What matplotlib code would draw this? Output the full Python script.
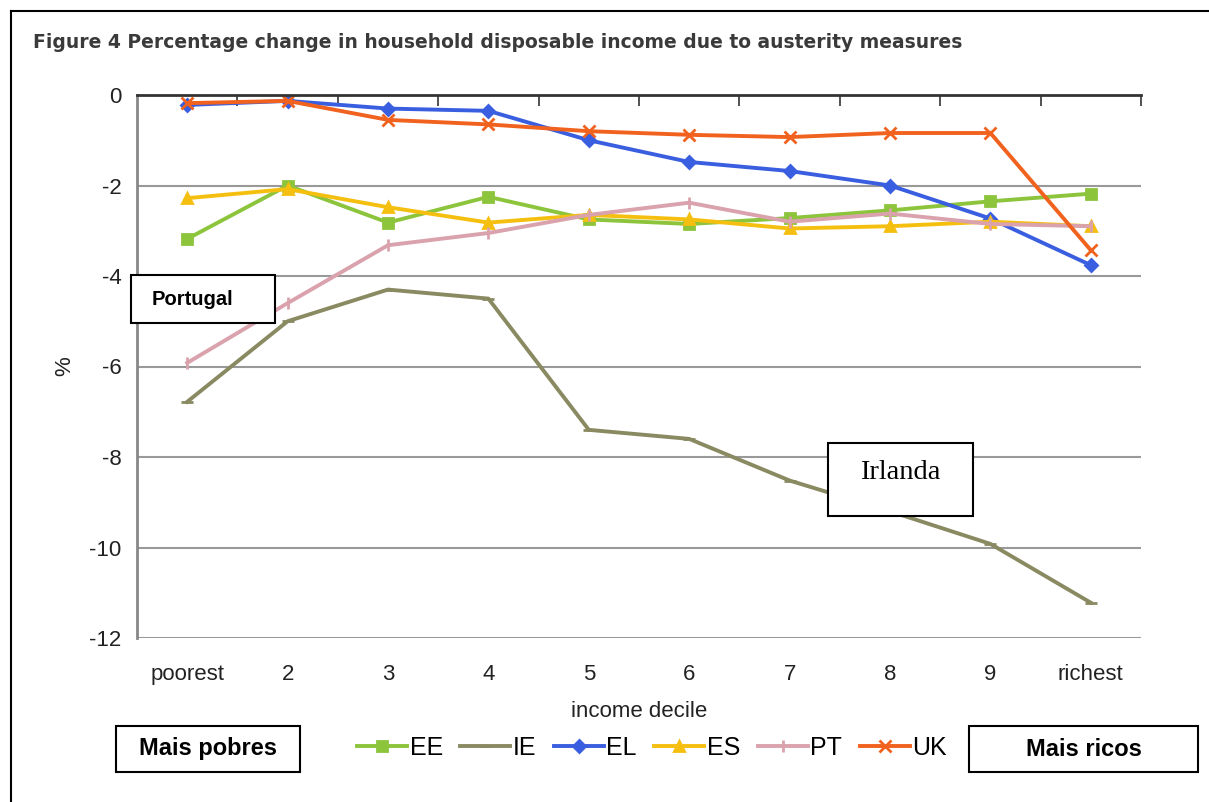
import matplotlib.pyplot as plt
from matplotlib.lines import Line2D
import numpy as np

deciles = ['poorest', '2', '3', '4', '5', '6', '7', '8', '9', 'richest']

ee = [-3.18, -2.0, -2.82, -2.25, -2.75, -2.85, -2.72, -2.55, -2.35, -2.18]
ie = [-6.78, -5.0, -4.3, -4.5, -7.4, -7.6, -8.52, -9.2, -9.92, -11.22]
el = [-0.22, -0.13, -0.3, -0.35, -1.0, -1.48, -1.68, -2.0, -2.73, -3.76]
es = [-2.28, -2.08, -2.48, -2.82, -2.65, -2.75, -2.95, -2.9, -2.8, -2.9]
pt = [-5.92, -4.6, -3.32, -3.05, -2.65, -2.38, -2.8, -2.62, -2.85, -2.9]
uk = [-0.18, -0.13, -0.55, -0.65, -0.8, -0.88, -0.93, -0.84, -0.84, -3.43]

series = [
    ('EE', ee, '#8cc43c', 's', 7),
    ('IE', ie, '#8a8a62', '_', 8),
    ('EL', el, '#3a5ee0', 'D', 6),
    ('ES', es, '#f5bf10', '^', 7),
    ('PT', pt, '#d9a2ad', '|', 8),
    ('UK', uk, '#f0621e', 'x', 8),
]

SANS = 'Liberation Sans'

fig = plt.figure(figsize=(12.09, 8.02), dpi=100)
ax = fig.add_axes([137/1209, 1 - 638/802, (1141-137)/1209, (638-95)/802])

x = np.arange(len(deciles))
for name, vals, col, mk, ms in series:
    ax.plot(x, vals, color=col, lw=2.8, marker=mk, markersize=ms,
            markeredgewidth=2, label=name, solid_joinstyle='round')

ax.set_xlim(-0.5, 9.5)
ax.set_ylim(-12, 0)
ax.set_yticks(np.arange(-12, 1, 2))
ax.set_yticklabels([str(v) for v in range(-12, 1, 2)], fontsize=16, color='#222222', family=SANS)
ax.set_xticks(x)
ax.set_xticklabels(deciles, fontsize=16, color='#222222', family=SANS)
ax.tick_params(axis='x', length=0, pad=19)
ax.tick_params(axis='y', length=0, pad=11)
ax.set_xticks(np.arange(0.5, 9.6, 1), minor=True)
ax.tick_params(axis='x', which='minor', top=True, bottom=False, direction='in',
               length=8, width=1.2, color='#333333')

for v in range(-12, 0, 2):
    ax.axhline(v, color='#999999', lw=1.5, zorder=0)
for s in ['right', 'bottom']:
    ax.spines[s].set_visible(False)
ax.spines['top'].set_color('#333333')
ax.spines['top'].set_linewidth(2)
ax.spines['left'].set_color('#888888')
ax.spines['left'].set_linewidth(2)

ax.set_xlabel('income decile', fontsize=16, color='#222222', labelpad=11, family=SANS)
ax.set_ylabel('%', fontsize=16, color='#222222', labelpad=10, family=SANS)

fig.text(33/1209, 1 - 42/802, 'Figure 4 Percentage change in household disposable income due to austerity measures',
         fontsize=13.5, fontweight='bold', color='#3a3a3a', va='center', ha='left')

# legend
handles = [Line2D([], [], color=c, lw=2.8, marker=m, markersize=ms, markeredgewidth=2)
           for _, _, c, m, ms in series]
fig.legend(handles, [s[0] for s in series], loc='center', bbox_to_anchor=(652/1209, 1 - 748/802),
           ncol=6, frameon=False, prop={'family': SANS, 'size': 18}, handlelength=2.0,
           handletextpad=0.1, columnspacing=0.7)

# outer border
fig.add_artist(Line2D([11/1209, 11/1209], [0, 1 - 11/802], color='black', lw=1.5))
fig.add_artist(Line2D([11/1209, 1], [1 - 11/802, 1 - 11/802], color='black', lw=1.5))


def boxed(x0, y0, x1, y1, text, **kw):
    fig.patches.append(plt.Rectangle((x0/1209, 1 - y1/802), (x1-x0)/1209, (y1-y0)/802,
                                     transform=fig.transFigure, facecolor='white',
                                     edgecolor='black', lw=1.5, zorder=5))
    fig.text(kw.pop('tx', (x0+x1)/2)/1209, 1 - kw.pop('ty', (y0+y1)/2)/802, text,
             zorder=6, **kw)


boxed(131, 275, 275, 323, 'Portugal', tx=152, ty=299, ha='left', va='center',
      fontsize=14.5, fontweight='bold', family=SANS)
boxed(828, 443, 973, 516, 'Irlanda', tx=900, ty=473, ha='center', va='center',
      fontsize=20.5, family='Liberation Serif')
boxed(116, 726, 300, 772, 'Mais pobres', ha='center', va='center',
      fontsize=17, fontweight='bold', family=SANS)
boxed(969, 726, 1198, 772, 'Mais ricos', ha='center', va='center',
      fontsize=17, fontweight='bold', family=SANS)

fig.savefig('out.png', dpi=100)
